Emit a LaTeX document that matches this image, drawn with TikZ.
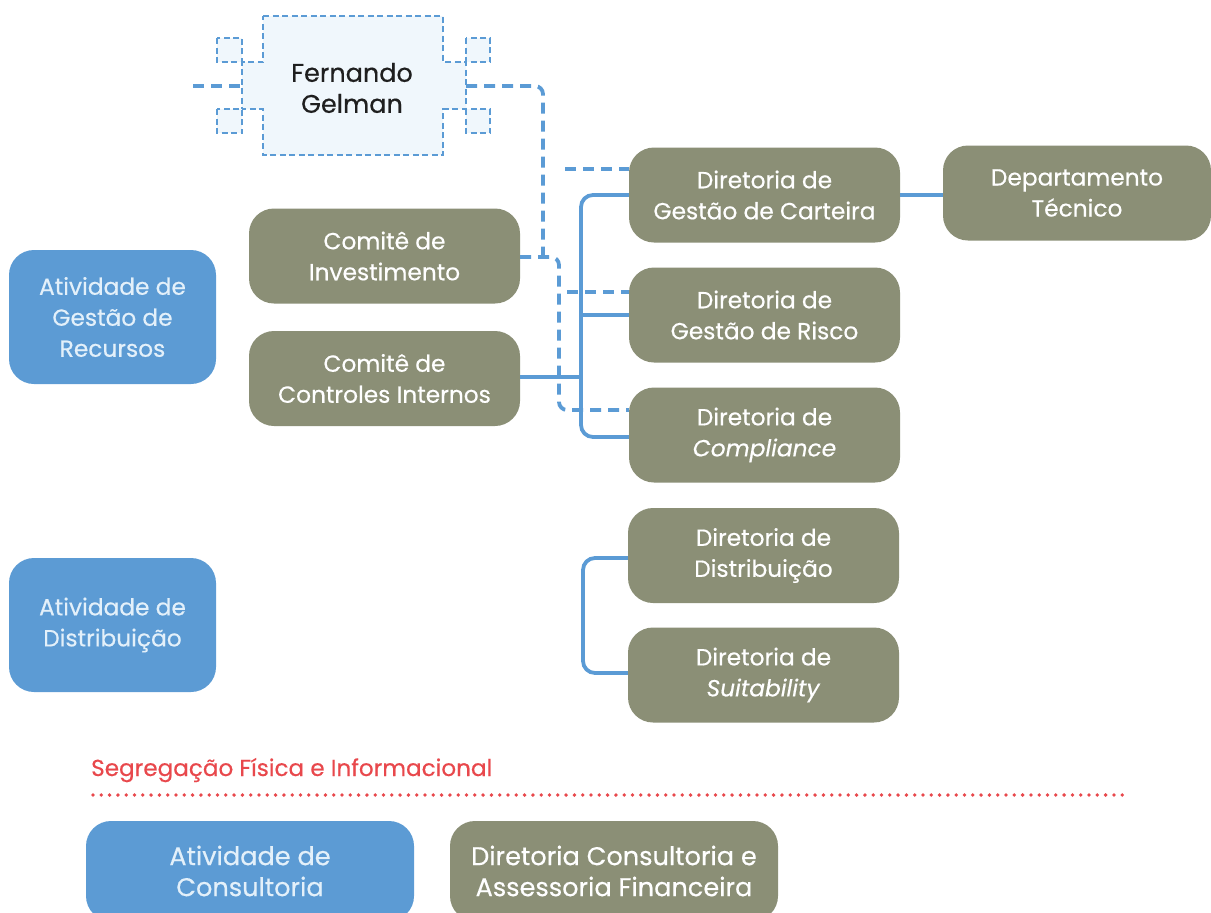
\documentclass[tikz,border=0pt]{standalone}
\usepackage{fontspec}
\setmainfont{Poppins}[UprightFeatures={FakeBold=0.45}, ItalicFeatures={FakeBold=0.45}]
\definecolor{boxgreen}{HTML}{8B8F76}
\definecolor{boxblue}{HTML}{5C9BD4}
\definecolor{linkblue}{HTML}{5B9BD5}
\definecolor{lighttxt}{HTML}{E3F0FA}
\definecolor{selfill}{HTML}{F0F7FC}
\definecolor{segred}{HTML}{E8484C}
\tikzset{
  base/.style={rounded corners=25pt, inner sep=0pt, align=center, font=\fontsize{23.3}{31}\selectfont},
  gbox/.style={base, fill=boxgreen, text=white, minimum width=271pt, minimum height=95pt},
  bbox/.style={base, fill=boxblue, text=lighttxt, minimum width=207pt, minimum height=134pt},
  bigtext/.style={font=\fontsize{25.6}{31}\selectfont},
  solidlink/.style={draw=linkblue, line width=3.8pt, rounded corners=12pt},
  dashlink/.style={draw=linkblue, line width=3.8pt, dash pattern=on 11pt off 7pt, rounded corners=8pt},
  handle/.style={draw=linkblue, fill=selfill, line width=2.2pt, dash pattern=on 6pt off 3.5pt},
}
\begin{document}
\begin{tikzpicture}[x=1pt,y=-1pt]
\useasboundingbox (0,0) rectangle (1211,913);
% selected Fernando Gelman shape
\path[handle] (263,16) -- (443,16) -- (443,62) -- (466,62) -- (466,109) -- (443,109) -- (443,155) -- (263,155) -- (263,109) -- (242,109) -- (242,62) -- (263,62) -- cycle;
\path[handle] (217,38) rectangle (242,62);
\path[handle] (217,109) rectangle (242,133);
\path[handle] (466,38) rectangle (490,62);
\path[handle] (466,109) rectangle (490,133);
\node[font=\fontsize{25.5}{31}\selectfont, text={black!88}, align=center] (gel) at (352,88) {Fernando\\Gelman};
\coordinate (gelL) at (242,86);
\coordinate (gelR) at (466,86);
\coordinate (leftend) at (193,86);

% boxes
\node[gbox] (inv) at (384.5,256) {Comitê de\\Investimento};
\node[gbox] (cci) at (384.5,378.5) {Comitê de\\Controles Internos};
\node[gbox] (car) at (764.5,195) {Diretoria de\\Gestão de Carteira};
\node[gbox, minimum width=268pt] (dep) at (1077,193) {Departamento\\Técnico};
\node[gbox] (ris) at (764.5,315) {Diretoria de\\Gestão de Risco};
\node[gbox] (com) at (764.5,435) {Diretoria de\\\textit{Compliance}};
\node[gbox] (dis) at (763.5,555.5) {Diretoria de\\Distribuição};
\node[gbox] (sui) at (763.5,675) {Diretoria de\\\textit{Suitability}};
\node[bbox] (agr) at (112.5,317) {Atividade de\\Gestão de\\Recursos};
\node[bbox] (adi) at (112.5,625) {Atividade de\\Distribuição};
\node[bbox, bigtext, minimum width=328pt, minimum height=100pt] (acon) at (250,871) {Atividade de\\Consultoria};
\node[gbox, bigtext, minimum width=328pt, minimum height=100pt] (dcaf) at (614,871) {Diretoria Consultoria e\\Assessoria Financeira};

% segregation
\node[anchor=base west, inner sep=0pt, text=segred, font=\fontsize{23.1}{25}\selectfont] (seg) at (91,776) {Segregação Física e Informacional};
\coordinate (dotL) at (93,795);
\coordinate (dotR) at (1125,795);
\draw[segred, line width=3.8pt, line cap=round, dash pattern=on 0pt off 8.3pt] (dotL) -- (dotR);

% dashed links
\path[dashlink] (leftend) -- (gelL);
\coordinate (v1) at (543,257);
\coordinate (v2) at (559,257);
\path[dashlink] (gelR) -- (543,86) -- (v1);
\path[dashlink] (inv.east |- v1) -- (v2) -- (559,410) -- (com.west |- 0,410);
\coordinate (d1) at (565,169);
\coordinate (d2) at (567,292);
\path[dashlink] (d1) -- (car.west |- d1);
\path[dashlink] (d2) -- (ris.west |- d2);

% solid links
\path[solidlink] (car.west) -- (581,195) -- (581,437) -- (com.west |- 0,437);
\path[solidlink] (ris.west) -- (581,315);
\path[solidlink] (cci.east |- 0,377) -- (581,377);
\path[solidlink] (car.east) -- (dep.west |- car.east);
\path[solidlink] (dis.west |- 0,558) -- (583,558) -- (583,673) -- (sui.west |- 0,673);
\end{tikzpicture}
\end{document}
